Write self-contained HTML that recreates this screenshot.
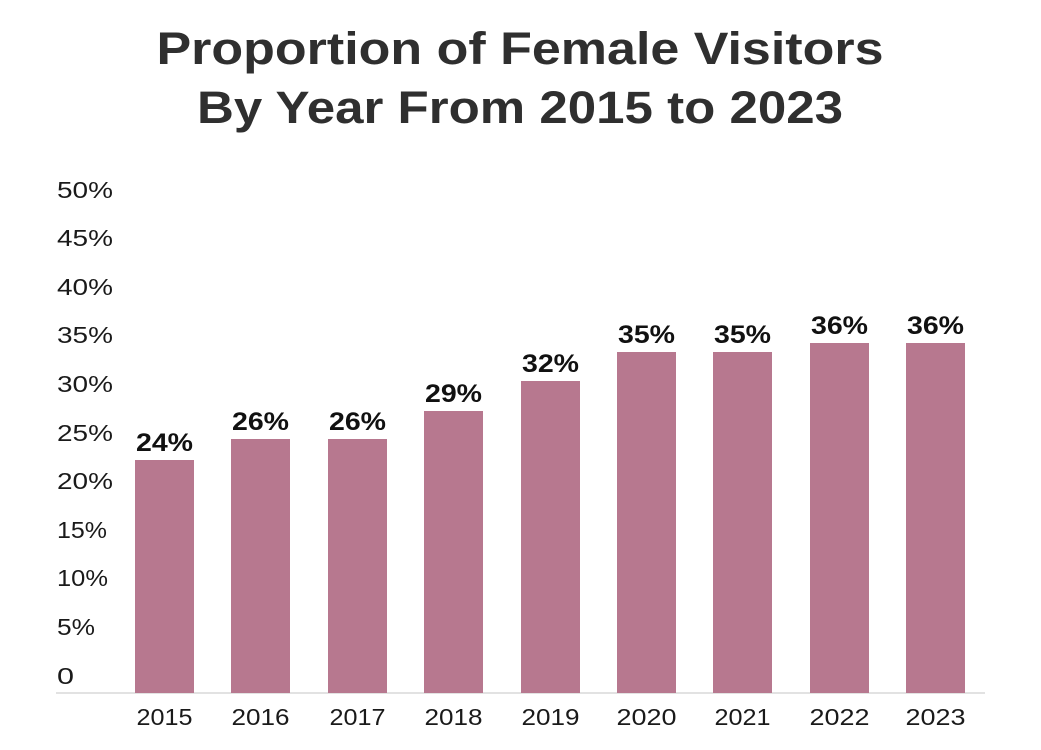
<!DOCTYPE html>
<html><head><meta charset="utf-8"><style>
html,body{margin:0;padding:0;background:#fff;}
svg{display:block;font-family:"Liberation Sans",sans-serif;}
</style></head><body>
<svg width="1041" height="750" viewBox="0 0 1041 750">
<rect width="1041" height="750" fill="#fff"/>
<g font-weight="bold" font-size="45" fill="#2f2f2f" text-anchor="middle" lengthAdjust="spacingAndGlyphs">
<text x="520" y="64" textLength="727" lengthAdjust="spacingAndGlyphs">Proportion of Female Visitors</text>
<text x="520" y="123" textLength="646" lengthAdjust="spacingAndGlyphs">By Year From 2015 to 2023</text>
</g>
<g font-size="23" fill="#1a1a1a">
<text x="57" y="198" textLength="56" lengthAdjust="spacingAndGlyphs">50%</text>
<text x="57" y="246" textLength="56" lengthAdjust="spacingAndGlyphs">45%</text>
<text x="57" y="295" textLength="56" lengthAdjust="spacingAndGlyphs">40%</text>
<text x="57" y="343" textLength="56" lengthAdjust="spacingAndGlyphs">35%</text>
<text x="57" y="392" textLength="56" lengthAdjust="spacingAndGlyphs">30%</text>
<text x="57" y="441" textLength="56" lengthAdjust="spacingAndGlyphs">25%</text>
<text x="57" y="489" textLength="56" lengthAdjust="spacingAndGlyphs">20%</text>
<text x="57" y="538" textLength="50" lengthAdjust="spacingAndGlyphs">15%</text>
<text x="57" y="586" textLength="51" lengthAdjust="spacingAndGlyphs">10%</text>
<text x="57" y="635" textLength="38" lengthAdjust="spacingAndGlyphs">5%</text>
<text x="57" y="684" textLength="17" lengthAdjust="spacingAndGlyphs">0</text>
</g>
<line x1="56" y1="693" x2="985" y2="693" stroke="#d8d8d8" stroke-width="1.5"/>
<g fill="#b7788f">
<rect x="135" y="460" width="59" height="233"/>
<rect x="231" y="439" width="59" height="254"/>
<rect x="328" y="439" width="59" height="254"/>
<rect x="424" y="411" width="59" height="282"/>
<rect x="521" y="381" width="59" height="312"/>
<rect x="617" y="352" width="59" height="341"/>
<rect x="713" y="352" width="59" height="341"/>
<rect x="810" y="343" width="59" height="350"/>
<rect x="906" y="343" width="59" height="350"/>
</g>
<g font-weight="bold" font-size="25" fill="#111" text-anchor="middle">
<text x="164.5" y="451" textLength="57" lengthAdjust="spacingAndGlyphs">24%</text>
<text x="260.5" y="430" textLength="57" lengthAdjust="spacingAndGlyphs">26%</text>
<text x="357.5" y="430" textLength="57" lengthAdjust="spacingAndGlyphs">26%</text>
<text x="453.5" y="402" textLength="57" lengthAdjust="spacingAndGlyphs">29%</text>
<text x="550.5" y="372" textLength="57" lengthAdjust="spacingAndGlyphs">32%</text>
<text x="646.5" y="343" textLength="57" lengthAdjust="spacingAndGlyphs">35%</text>
<text x="742.5" y="343" textLength="57" lengthAdjust="spacingAndGlyphs">35%</text>
<text x="839.5" y="334" textLength="57" lengthAdjust="spacingAndGlyphs">36%</text>
<text x="935.5" y="334" textLength="57" lengthAdjust="spacingAndGlyphs">36%</text>
</g>
<g font-size="23" fill="#1a1a1a" text-anchor="middle">
<text x="164.5" y="725" textLength="56" lengthAdjust="spacingAndGlyphs">2015</text>
<text x="260.5" y="725" textLength="58" lengthAdjust="spacingAndGlyphs">2016</text>
<text x="357.5" y="725" textLength="56" lengthAdjust="spacingAndGlyphs">2017</text>
<text x="453.5" y="725" textLength="58" lengthAdjust="spacingAndGlyphs">2018</text>
<text x="550.5" y="725" textLength="58" lengthAdjust="spacingAndGlyphs">2019</text>
<text x="646.5" y="725" textLength="60" lengthAdjust="spacingAndGlyphs">2020</text>
<text x="742.5" y="725" textLength="56" lengthAdjust="spacingAndGlyphs">2021</text>
<text x="839.5" y="725" textLength="60" lengthAdjust="spacingAndGlyphs">2022</text>
<text x="935.5" y="725" textLength="60" lengthAdjust="spacingAndGlyphs">2023</text>
</g>
</svg>
</body></html>
